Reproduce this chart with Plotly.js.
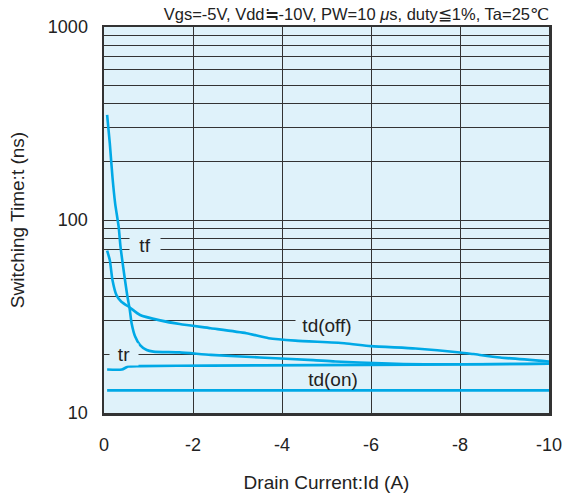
<!DOCTYPE html>
<html>
<head>
<meta charset="utf-8">
<script src="https://cdn.plot.ly/plotly-3.0.1.min.js"></script>
<style>html,body{margin:0;padding:0;background:#fff;}#chart{width:567px;height:499px;}</style>
</head>
<body>
<div id="chart"></div>
<script>
// Drain current Id (A) and switching times (ns)
const tfX   = [-0.07, -0.13, -0.19, -0.25, -0.33, -0.37, -0.45, -0.52, -0.58, -0.62, -0.70, -0.81, -0.96, -1.11, -1.7, -2.4, -3.5, -4.7, -5.2, -7.2, -10];
const tfY   = [350, 250, 167, 122, 92, 73, 53, 41, 34.2, 29.2, 24.9, 22.5, 21.2, 20.8, 20.6, 20.0, 19.4, 18.8, 18.5, 17.9, 18.0];
const tdoffX = [-0.07, -0.13, -0.19, -0.28, -0.39, -0.58, -0.81, -1.26, -1.70, -2.4, -3.2, -3.7, -4.3, -5.4, -6.0, -7.0, -8.0, -8.3, -8.9, -10];
const tdoffY = [69.4, 62, 48.9, 40.8, 37.7, 35.2, 32.2, 30.2, 28.9, 27.5, 25.9, 24.4, 23.7, 23.0, 22.2, 21.6, 20.6, 20.2, 19.4, 18.5];
const trX   = [-0.07, -0.4, -0.54, -0.8, -2.4, -4.7, -7.0, -10];
const trY   = [16.8, 16.8, 17.4, 17.5, 17.6, 17.7, 17.8, 18.0];
const tdonX = [-0.07, -10];
const tdonY = [13.1, 13.1];

const xTickVals = [0, -2, -4, -6, -8, -10];
const xTickText = ['0', '-2', '-4', '-6', '-8', '-10'];
const yTickVals = [10,20,30,40,50,60,70,80,90,100,200,300,400,500,600,700,800,900,1000];
const yTickText = ['10','','','','','','','','','100','','','','','','','','','1000'];

const curveLabels = ['tf', 'tr', 'td(off)', 'td(on)'];
const labelX = [-0.93, -0.45, -5.0, -5.15];
const labelY = [74, 20, 28.3, 14.9];
const labelW = [30, 28, 62, 60];
const labelBg = [true, true, true, false];

const conditions = 'Vgs=-5V, Vdd≒-10V, PW=10 <i>μ</i>s, duty≦1%, Ta=25℃';

const lineColor = '#00a9e6';
const bg = '#dff2fa';
const font = 'Liberation Sans, Arial, Helvetica, sans-serif';

function tr_(x, y) {
  return {x: x, y: y, type: 'scatter', mode: 'lines', line: {color: lineColor, width: 2.6, shape: 'spline', smoothing: 0.6}, hoverinfo: 'skip', showlegend: false};
}
const data = [tr_(tfX, tfY), tr_(tdoffX, tdoffY), tr_(trX, trY), tr_(tdonX, tdonY)];

const annotations = curveLabels.map((t, i) => ({
  x: labelX[i], y: Math.log10(labelY[i]), xref: 'x', yref: 'y', text: t,
  showarrow: false, bgcolor: labelBg[i] ? bg : 'rgba(0,0,0,0)', width: labelW[i], borderpad: 0,
  font: {family: font, size: 19, color: '#222'}
}));

const layout = {
  width: 567, height: 499,
  margin: {l: 104, r: 18, t: 27, b: 86},
  paper_bgcolor: '#ffffff', plot_bgcolor: bg,
  font: {family: font, color: '#222'},
  title: {text: conditions, xref: 'paper', x: 1.0, xanchor: 'right', yref: 'container', y: 0.972, yanchor: 'middle', font: {family: font, size: 16.5, color: '#222'}},
  xaxis: {
    range: [0, -10], tickvals: xTickVals, ticktext: xTickText, ticks: '',
    showgrid: true, gridcolor: '#333', gridwidth: 1, zeroline: false,
    showline: true, linecolor: '#333', linewidth: 2.5, mirror: true,
    ticklabelstandoff: 14, tickfont: {family: font, size: 18, color: '#222'},
    title: {text: 'Drain Current:Id (A)', font: {family: font, size: 19, color: '#222'}, standoff: 22}
  },
  yaxis: {
    type: 'log', range: [1, 3], tickvals: yTickVals, ticktext: yTickText, ticks: '',
    showgrid: true, gridcolor: '#333', gridwidth: 1, zeroline: false,
    showline: true, linecolor: '#333', linewidth: 2.5, mirror: true,
    ticklabelstandoff: 10, tickfont: {family: font, size: 18, color: '#222'},
    title: {text: 'Switching Time:t (ns)', font: {family: font, size: 19, color: '#222'}, standoff: 18}
  },
  annotations: annotations
};

Plotly.newPlot('chart', data, layout, {staticPlot: true, displayModeBar: false});
</script>
</body>
</html>
